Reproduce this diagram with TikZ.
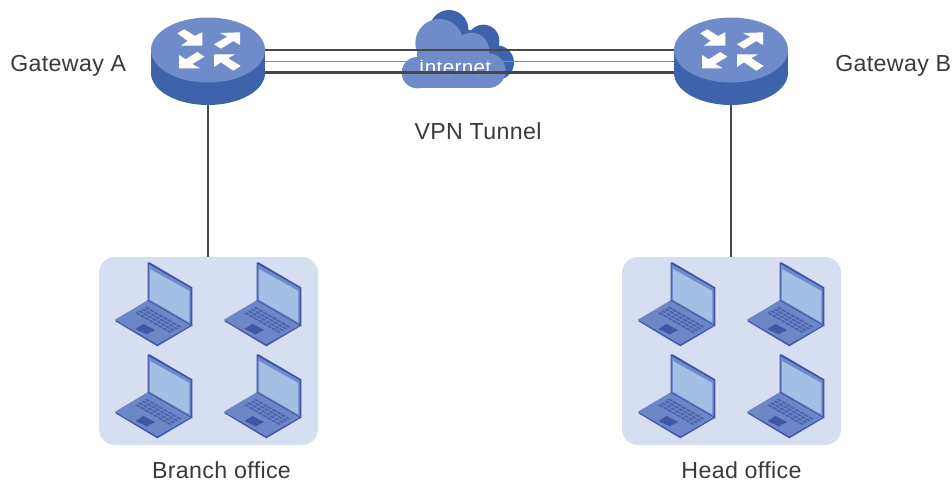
\documentclass[tikz,border=0pt]{standalone}
\usepackage{fontspec}
\setmainfont[LetterSpace=1.5]{Liberation Sans}
\definecolor{bluelight}{HTML}{6F8BC9}
\definecolor{bluedark}{HTML}{3F63AB}
\definecolor{lanfill}{HTML}{D5DFF1}
\definecolor{screenblue}{HTML}{A3BFE4}
\definecolor{lapedge}{HTML}{3F55A5}
\definecolor{lapbase}{HTML}{6C86C6}
\definecolor{wirecol}{HTML}{484848}
\definecolor{wiremid}{HTML}{8A8A8A}
\definecolor{labelcol}{HTML}{3A3A3A}
\tikzset{
  lbl/.style={font=\fontsize{17.4pt}{21pt}\selectfont,text=labelcol,inner sep=0pt},
  hook/.style={inner sep=0pt,minimum size=0pt},
  wire/.style={draw=wirecol,line width=2pt},
  wirethin/.style={draw=wiremid,line width=0.8pt},
  lanbox/.style={fill=lanfill,rounded corners=12pt,minimum width=164.25pt,minimum height=141pt,inner sep=0pt},
  router/.pic={
    \fill[bluedark] (0,23) ellipse[x radius=57,y radius=32];
    \fill[bluedark] (-57,0) rectangle (57,23);
    \fill[bluelight] (0,0) ellipse[x radius=57,y radius=32.5];
    \fill[white] (-30.7,-16.7) -- (-23.7,-20.7) -- (-13,-14) -- (-5.7,-17.7) -- (-5.7,-4.3) -- (-27.3,-4.3) -- (-20.3,-9) -- cycle;
    \fill[white] (6,-5.7) -- (19.3,-13.3) -- (12,-17) -- (32,-17.7) -- (32,-5) -- (25.3,-9) -- (13,-1.3) -- cycle;
    \fill[white] (-29,5) -- (-22.3,9.3) -- (-10.7,2) -- (-3.7,6.7) -- (-15.7,14) -- (-8,18.3) -- (-29,18.3) -- cycle;
    \fill[white] (6,4.3) -- (27,4.3) -- (20.3,8.3) -- (32.7,16) -- (25.3,20.7) -- (13,12.3) -- (6,17) -- cycle;
  },
  laptop/.pic={
    \fill[lapedge] (45,198) -- (143,137) -- (277,212) -- (172,274) -- cycle;
    \fill[lapbase] (45,194) -- (143,136) -- (272,211) -- (172,268) -- cycle;
    \fill[lapedge] (143,22) -- (149,22) -- (277,97) -- (277,214) -- (270,210) -- (143,137) -- cycle;
    \fill[bluelight] (146,28) -- (272,100) -- (272,208) -- (146,135) -- cycle;
    \fill[screenblue] (150,42) -- (268,108) -- (268,202) -- (150,134) -- cycle;
    \foreach \i in {0,...,7}{\foreach \j in {0,...,3}{
      \fill[lapedge!70!lapbase] ({140+\i*13.5-\j*9.5},{155+\i*7.7+\j*5.5}) -- ++(10,5.7) -- ++(-6,3.2) -- ++(-10,-5.7) -- cycle;
    }}
    \fill[lapedge] (107,222) -- (130,207) -- (165,225) -- (140,238) -- cycle;
  },
}
\begin{document}
\begin{tikzpicture}[x=0.75pt,y=-0.75pt]
\useasboundingbox (0,0) rectangle (952,482);
% cloud
\begin{scope}[shift={(380,0)},x=0.25pt,y=-0.25pt]
  \fill[bluedark] (207,88) circle[radius=58pt*0.25] (310,122) circle[radius=48pt*0.25] (350,188) circle[radius=52pt*0.25];
  \fill[bluedark] (150,90) rectangle (345,262);
  \fill[bluelight] (178,129) circle[radius=72pt*0.25] (275,150) circle[radius=52pt*0.25] (325,212) circle[radius=52pt*0.25] (112,218) circle[radius=47pt*0.25];
  \fill[bluelight] (112,150) rectangle (325,265);
\end{scope}
\node[hook,anchor=base] (cloudtxt) at (455,74) {\fontsize{15.5pt}{18pt}\selectfont\textcolor{white}{Internet}};
% named hooks
\node[hook,minimum width=85.5pt,minimum height=65pt] (gwA) at (208,61.5) {};
\node[hook,minimum width=85.5pt,minimum height=65pt] (gwB) at (731,61.5) {};
\node[lanbox] (lanA) at (208.5,351) {};
\node[lanbox] (lanB) at (731.5,351) {};
\coordinate (a1) at ([yshift=8.6pt]gwA.east);
\coordinate (a2) at (gwA.east);
\coordinate (a3) at ([yshift=-8.0pt]gwA.east);
\coordinate (b1) at ([yshift=8.6pt]gwB.west);
\coordinate (b2) at (gwB.west);
\coordinate (b3) at ([yshift=-8.0pt]gwB.west);
\draw[wire] (a1) -- (b1);
\draw[wirethin] (a2) -- (b2);
\draw[wire] (a3) -- (b3);
\draw[wire] (gwA.south) -- (gwA.south |- lanA.north);
\draw[wire] (gwB.south) -- (gwB.south |- lanB.north);
% routers
\pic at (208,50) {router};
\pic at (731,50) {router};
% laptops
\foreach \ox in {0,523}{\foreach \dx in {0,109}{\foreach \dy in {0,92}{
  \begin{scope}[shift={({100+\ox+\dx},{255+\dy})},x=0.25pt,y=-0.25pt]
    \pic {laptop};
  \end{scope}
}}}
% labels
\node[lbl,anchor=base west] (la) at (10,71) {Gateway A};
\node[lbl,anchor=base west] (lb) at (835,71) {Gateway B};
\node[lbl,anchor=base] (lv) at (478,139) {VPN Tunnel};
\node[lbl,anchor=base] (lbr) at (221.5,478.5) {Branch office};
\node[lbl,anchor=base] (lh) at (741.5,478.5) {Head office};
\end{tikzpicture}
\end{document}
